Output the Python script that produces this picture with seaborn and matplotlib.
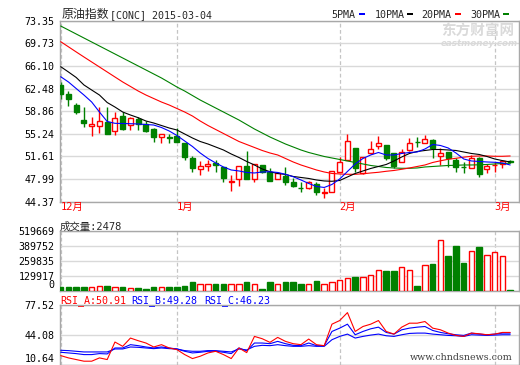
import numpy as np
import pandas as pd
import matplotlib
matplotlib.use("Agg")
import matplotlib.pyplot as plt
from matplotlib.patches import Rectangle
import seaborn as sns

sns.set_theme(style="white")
plt.rcParams['font.family'] = ['DejaVu Sans Mono', 'Noto Sans CJK SC']

# ---------------- data ----------------
title_cn = "原油指数"
title_code = "[CONC] 2015-03-04"
month_pos = [0, 15, 36, 56]
month_labels = ["12月", "1月", "2月", "3月"]

opens = [63.05, 61.60, 59.85, 57.45, 56.55, 56.55, 57.20, 55.75, 58.10, 56.65,
         57.55, 56.80, 56.00, 54.80, 54.80, 54.90, 53.80, 51.40, 49.55, 50.05,
         50.60, 49.95, 47.60, 47.95, 50.05, 47.95, 50.25, 49.20, 47.95, 48.50,
         47.60, 46.60, 46.50, 47.15, 45.75, 45.95, 49.20, 51.05, 53.00, 48.90,
         52.10, 53.35, 53.45, 52.10, 50.80, 52.65, 53.95, 53.70, 54.25, 51.70,
         52.35, 51.00, 49.95, 49.70, 51.30, 49.55, 50.20, 50.35, 50.95]
highs = [63.50, 62.10, 60.10, 59.50, 57.90, 59.50, 59.50, 58.80, 58.80, 57.90,
         57.90, 57.35, 56.10, 55.15, 55.15, 56.10, 53.80, 51.70, 50.90, 51.05,
         51.05, 49.95, 48.65, 50.05, 52.50, 50.35, 50.25, 49.70, 49.20, 50.00,
         48.10, 47.60, 47.70, 47.50, 46.50, 49.35, 51.60, 55.20, 53.00, 51.60,
         54.15, 54.90, 53.45, 52.10, 52.80, 54.60, 54.70, 55.05, 54.40, 53.00,
         52.35, 51.30, 50.70, 51.85, 51.60, 50.35, 50.70, 51.05, 51.05]
lows = [60.80, 59.70, 58.40, 56.30, 54.90, 55.40, 55.15, 55.05, 55.85, 55.85,
        55.85, 55.50, 54.00, 53.80, 53.70, 53.90, 51.05, 49.15, 48.65, 49.30,
        49.15, 47.60, 46.10, 46.95, 47.95, 47.60, 48.95, 47.70, 47.95, 47.05,
        46.80, 45.90, 46.40, 45.45, 45.00, 45.95, 49.20, 51.05, 49.20, 48.75,
        52.00, 52.80, 51.05, 49.70, 50.80, 52.50, 53.20, 53.70, 51.40, 50.25,
        50.00, 49.15, 48.95, 49.70, 48.40, 48.90, 49.15, 49.80, 50.50]
closes = [61.55, 60.75, 58.70, 57.00, 56.75, 57.35, 55.20, 57.70, 56.00, 57.70,
          56.75, 55.75, 54.80, 55.15, 54.50, 53.95, 51.55, 49.70, 50.05, 50.35,
          50.25, 48.10, 47.75, 50.05, 47.95, 50.35, 49.20, 47.70, 48.90, 47.60,
          46.95, 46.50, 47.50, 45.95, 45.90, 49.35, 50.80, 54.10, 49.80, 51.60,
          52.80, 53.70, 51.30, 50.10, 52.30, 53.70, 53.85, 54.40, 53.00, 52.20,
          51.30, 49.95, 49.85, 51.30, 48.75, 50.05, 50.30, 50.85, 50.80]

ma5 = [64.38, 63.54, 62.49, 61.45, 60.33, 58.73, 57.21, 56.92, 56.89, 56.86,
       56.81, 56.73, 56.65, 56.25, 55.69, 54.97, 54.09, 53.21, 52.17, 51.29,
       50.57, 49.93, 49.45, 49.29, 49.05, 48.97, 49.13, 49.17, 49.05, 48.76,
       48.37, 47.85, 47.29, 46.81, 46.65, 47.13, 48.01, 49.21, 50.41, 51.29,
       51.85, 52.25, 51.85, 51.85, 52.09, 52.25, 52.33, 52.81, 53.53, 53.37,
       52.97, 52.17, 51.21, 50.89, 50.81, 50.73, 50.68, 50.57, 50.25]
ma10 = [65.99, 65.14, 64.26, 63.06, 62.25, 61.45, 60.25, 59.53, 58.73, 58.25,
        57.82, 57.29, 56.97, 56.57, 56.17, 55.85, 55.21, 54.57, 54.01, 53.61,
        53.13, 52.65, 52.01, 51.45, 50.81, 50.25, 49.61, 49.17, 48.89, 48.73,
        48.41, 48.25, 48.09, 47.85, 47.69, 47.64, 47.77, 48.33, 48.89, 49.29,
        49.69, 50.01, 50.33, 50.89, 51.53, 52.09, 52.41, 52.57, 52.73, 52.73,
        52.65, 52.57, 52.33, 52.09, 51.93, 51.61, 51.21, 50.95, 50.73]
ma20 = [69.99, 69.17, 68.35, 67.54, 66.74, 65.94, 65.14, 64.34, 63.54, 62.82,
        62.09, 61.45, 60.89, 60.33, 59.85, 59.29, 58.73, 58.09, 57.29, 56.57,
        55.93, 55.29, 54.65, 54.01, 53.53, 53.05, 52.57, 52.17, 51.85, 51.29,
        50.73, 50.25, 49.85, 49.45, 49.13, 48.89, 48.81, 48.76, 48.76, 48.84,
        48.97, 49.08, 49.24, 49.37, 49.56, 49.77, 50.01, 50.25, 50.65, 50.92,
        51.16, 51.32, 51.50, 51.64, 51.69, 51.69, 51.64, 51.64, 51.69]
ma30 = [72.50, 71.86, 71.22, 70.58, 69.94, 69.30, 68.66, 68.02, 67.38, 66.74,
        66.10, 65.46, 64.82, 64.18, 63.46, 62.73, 62.09, 61.37, 60.65, 60.01,
        59.37, 58.73, 58.09, 57.45, 56.73, 56.01, 55.37, 54.73, 54.17, 53.61,
        53.13, 52.65, 52.25, 51.93, 51.61, 51.37, 51.13, 50.89, 50.65, 50.41,
        50.17, 50.01, 49.85, 49.77, 49.72, 49.72, 49.77, 49.93, 50.01, 50.09,
        50.17, 50.20, 50.25, 50.25, 50.28, 50.33, 50.41, 50.49, 50.52]

volume = [29200, 29200, 29200, 29200, 29200, 37960, 37960, 29200, 29200, 20440,
          20440, 11680, 29200, 29200, 29200, 29200, 37960, 73000, 61320, 61320,
          55480, 55480, 61320, 61320, 73000, 55480, 14600, 73000, 61320, 73000,
          73000, 58400, 55480, 81760, 61320, 78840, 96360, 113880, 116800, 122640,
          140160, 183960, 169360, 169360, 210240, 183960, 37960, 227760, 230680, 446760,
          300760, 388360, 239440, 350400, 379600, 315360, 338720, 306600, 2478]

rsi_a = [20.66, 18.06, 16.20, 14.35, 14.35, 18.06, 16.20, 35.90, 31.07, 40.36,
         37.39, 34.78, 30.33, 32.93, 29.21, 27.35, 21.78, 17.32, 19.92, 23.64,
         25.49, 21.78, 17.32, 29.21, 24.00, 42.22, 39.62, 35.53, 41.10, 36.64,
         34.04, 32.93, 39.24, 32.93, 31.81, 55.97, 60.05, 68.97, 47.79, 53.36,
         55.97, 60.05, 47.79, 44.82, 52.62, 57.08, 57.08, 58.94, 51.51, 49.65,
         45.93, 43.33, 42.22, 45.93, 45.19, 44.07, 44.82, 46.68, 46.68]
rsi_b = [24.38, 23.64, 22.89, 21.78, 21.78, 22.89, 22.52, 29.21, 29.21, 32.93,
         31.81, 30.33, 29.21, 30.33, 29.21, 28.10, 25.49, 23.64, 24.38, 25.49,
         25.49, 24.38, 22.89, 29.21, 26.00, 34.78, 34.78, 34.04, 36.64, 34.04,
         32.18, 31.81, 34.78, 31.81, 31.81, 47.79, 51.51, 55.97, 44.07, 47.79,
         50.76, 52.62, 46.68, 44.82, 49.65, 51.51, 52.62, 53.36, 48.90, 46.68,
         45.19, 44.07, 43.33, 45.93, 44.82, 44.07, 44.82, 45.93, 45.93]
rsi_c = [26.61, 26.24, 25.49, 24.75, 24.75, 24.75, 24.75, 28.10, 28.10, 30.33,
         29.95, 29.21, 28.47, 29.21, 28.47, 28.10, 26.24, 25.49, 25.49, 26.24,
         26.24, 25.49, 24.75, 28.10, 27.00, 31.07, 32.18, 31.81, 32.93, 31.81,
         31.07, 31.07, 31.81, 31.07, 31.07, 38.50, 42.22, 44.82, 40.36, 42.22,
         43.70, 44.82, 42.96, 42.22, 44.07, 45.56, 45.93, 45.93, 44.82, 44.07,
         43.33, 42.96, 42.22, 44.07, 43.70, 43.33, 43.70, 44.07, 44.07]

price_ticks = [73.35, 69.73, 66.10, 62.48, 58.86, 55.24, 51.61, 47.99, 44.37]
vol_ticks = [0, 129917, 259835, 389752, 519669]
rsi_ticks = [10.64, 44.08, 77.52]
vol_label = "成交量:2478"
rsi_labels = ["RSI_A:50.91", "RSI_B:49.28", "RSI_C:46.23"]
ma_names = ["5PMA", "10PMA", "20PMA", "30PMA"]

# ---------------- styling ----------------
RED = "#FF0000"
GREEN = "#008000"
BLUE = "#0000FF"
GRID = "#D9D9D9"
SPINE = "#A8A8A8"
DASH = "#C4C4C4"
MONO = "DejaVu Sans Mono"
CJK = "Noto Sans CJK SC"
FS = 7.2

W, H = 520, 365
fig = plt.figure(figsize=(W / 100, H / 100), dpi=100)
fig.patch.set_facecolor("white")


def fx(px):
    return px / W


def fy(py):
    return 1 - py / H


def make_axes(top, bottom):
    return fig.add_axes([fx(60), fy(bottom), fx(519) - fx(60), fy(top) - fy(bottom)])


ax = make_axes(20.7, 201.7)
axv = make_axes(231.3, 290.5)
axr = make_axes(305.0, 364.5)

df = pd.DataFrame({"i": np.arange(len(closes)), "open": opens, "high": highs,
                   "low": lows, "close": closes, "ma5": ma5, "ma10": ma10,
                   "ma20": ma20, "ma30": ma30, "vol": volume,
                   "rsi_a": rsi_a, "rsi_b": rsi_b, "rsi_c": rsi_c})
df["up"] = df["close"] >= df["open"]
XLIM = (-0.09, 59.135)

for a in (ax, axv, axr):
    a.set_facecolor("white")
    a.set_xlim(*XLIM)
    a.set_xticks([])
    for s in a.spines.values():
        s.set_color(SPINE)
        s.set_linewidth(1.0)
    for m in month_pos:
        a.axvline(m, color=DASH, lw=0.9, ls=(0, (3, 2)), zorder=0.5)
    a.tick_params(axis="y", length=0, pad=4, labelsize=FS, labelcolor="black")
    a.yaxis.grid(True, color=GRID, lw=1.0, zorder=0)
    a.set_axisbelow(True)

# ---- candles ----
w = 0.65
for r in df.itertuples():
    col = RED if r.up else GREEN
    ax.vlines(r.i, r.low, r.high, color=col, lw=1.0, zorder=2)
    lo, hi = min(r.open, r.close), max(r.open, r.close)
    ax.bar(r.i, hi - lo, bottom=lo, width=w,
           facecolor="white" if r.up else GREEN, edgecolor=col,
           linewidth=1.0, zorder=3)

for col_name, c in zip(["ma30", "ma20", "ma10", "ma5"], [GREEN, RED, "black", BLUE]):
    sns.lineplot(data=df, x="i", y=col_name, ax=ax, color=c, lw=0.8, zorder=4,
                 estimator=None, legend=False)

ax.set_ylim(price_ticks[-1], price_ticks[0])
ax.set_yticks(price_ticks)
ax.set_yticklabels([f"{v:.2f}" for v in price_ticks], family=MONO)
ax.set_xlabel("")
ax.set_ylabel("")
ax.set_xlim(*XLIM)

for m, lab in zip(month_pos, month_labels):
    ax.text(m, -0.03, lab, transform=ax.get_xaxis_transform(), ha="left",
            va="center", color=RED, fontsize=7.5, family=[MONO, CJK])

# ---- volume ----
for r in df.itertuples():
    col = RED if r.up else GREEN
    axv.bar(r.i, r.vol, width=0.72, facecolor="white" if r.up else GREEN,
            edgecolor=col, linewidth=1.0, zorder=3)
axv.set_ylim(0, vol_ticks[-1])
axv.set_yticks(vol_ticks)
axv.set_yticklabels([str(v) for v in vol_ticks], family=MONO)
axv.get_yticklabels()[0].set_va("bottom")
axv.set_xlim(*XLIM)

# ---- RSI ----
for col_name, c in zip(["rsi_c", "rsi_b", "rsi_a"], [BLUE, BLUE, RED]):
    sns.lineplot(data=df, x="i", y=col_name, ax=axr, color=c, lw=0.8, zorder=4,
                 estimator=None, legend=False)
axr.set_ylim(rsi_ticks[0], rsi_ticks[-1])
axr.set_yticks(rsi_ticks)
axr.set_yticklabels([f"{v:.2f}" for v in rsi_ticks], family=MONO)
axr.get_yticklabels()[0].set_va("bottom")
axr.set_xlim(*XLIM)
for a in (axv, axr):
    a.set_xlabel("")
    a.set_ylabel("")

# ---------------- texts ----------------
fig.text(fx(62), fy(18), title_cn, family=CJK, fontsize=8.6, va="baseline", ha="left")
fig.text(fx(110), fy(18), title_code, family=MONO, fontsize=FS, va="baseline", ha="left")

legend_x = [331.7, 374.3, 421.7, 470.0]
legend_c = [BLUE, "black", RED, GREEN]
for name, x0, c in zip(ma_names, legend_x, legend_c):
    fig.text(fx(x0), fy(18), name, family=MONO, fontsize=FS, va="baseline", ha="left")
    xe = x0 + 6.02 * len(name) + 3
    fig.add_artist(Rectangle((fx(xe), fy(15.2)), 6 / W, 2.6 / H,
                             transform=fig.transFigure, color=c, lw=0))

fig.text(fx(60), fy(230), vol_label, family=[MONO, CJK], fontsize=7.5,
         va="baseline", ha="left")

for lab, x0, c in zip(rsi_labels, [60, 131.7, 204], [RED, BLUE, BLUE]):
    fig.text(fx(x0), fy(303), lab, family=MONO, fontsize=FS, color=c,
             va="baseline", ha="left")

# watermarks
fig.text(fx(441), fy(36), "东方财富网", family=CJK, fontsize=10.5, weight="bold",
         color="#DADADA", va="baseline", ha="left")
fig.text(fx(441), fy(46.5), "eastmoney.com", family="DejaVu Sans", fontsize=6.3,
         weight="bold", style="italic", color="#DADADA", va="baseline", ha="left")
fig.text(fx(410), fy(360), "www.chndsnews.com", family="DejaVu Serif", fontsize=6.8,
         color="#404040", va="baseline", ha="left")

fig.savefig("out.png", dpi=100)
